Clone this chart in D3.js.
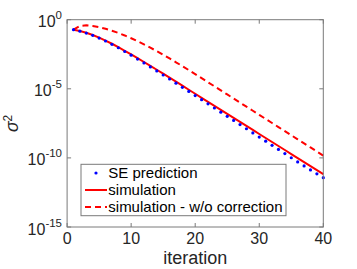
<!DOCTYPE html>
<html><head><meta charset="utf-8">
<script src="https://cdn.jsdelivr.net/npm/d3@7"></script>
<style>
html,body{margin:0;padding:0;background:#fff;}
svg{display:block;font-family:"Liberation Sans",Arial,Helvetica,sans-serif;}
</style></head>
<body>
<script>
// iterations 1..40
const iterations = d3.range(1, 41);
// log10(sigma^2) values
const seLog10 = [-0.72,-0.83,-0.97,-1.13,-1.33,-1.54,-1.78,-2.03,-2.30,-2.57,
  -2.85,-3.13,-3.42,-3.71,-4.00,-4.29,-4.59,-4.89,-5.19,-5.49,
  -5.79,-6.09,-6.39,-6.69,-6.99,-7.29,-7.59,-7.89,-8.19,-8.49,
  -8.79,-9.09,-9.39,-9.69,-9.99,-10.29,-10.58,-10.87,-11.15,-11.43];
const simLog10 = [-0.72,-0.82,-0.95,-1.11,-1.30,-1.51,-1.74,-1.99,-2.25,-2.515,
  -2.785,-3.06,-3.34,-3.623,-3.909,-4.197,-4.487,-4.777,-5.07,-5.36,
  -5.65,-5.94,-6.23,-6.52,-6.81,-7.10,-7.39,-7.68,-7.97,-8.27,
  -8.56,-8.85,-9.14,-9.43,-9.72,-10.01,-10.30,-10.59,-10.88,-11.18];
const noCorrLog10 = [-0.72,-0.45,-0.40,-0.45,-0.54,-0.66,-0.80,-0.96,-1.14,-1.34,
  -1.555,-1.785,-2.025,-2.275,-2.535,-2.805,-3.08,-3.36,-3.645,-3.935,
  -4.23,-4.525,-4.82,-5.115,-5.41,-5.705,-6.0,-6.295,-6.59,-6.885,
  -7.18,-7.475,-7.77,-8.065,-8.36,-8.655,-8.95,-9.245,-9.54,-9.835];
const xTicks = [0, 10, 20, 30, 40];
const yTickExps = [0, -5, -10, -15];
const legendLabels = ["SE prediction", "simulation", "simulation - w/o correction"];

const W = 357, H = 269;
const L = 67.1, R = 323.3, T = 19.7, B = 227;
const axisColor = "#262626";

const svg = d3.select("body").append("svg").attr("width", W).attr("height", H);
const x = d3.scaleLinear().domain([0, 40]).range([L, R]);
const y = d3.scaleLog().domain([1e-15, 1]).range([B, T]);

const toPts = arr => iterations.map((it, i) => ({x: it, v: Math.pow(10, arr[i])}));
const se = toPts(seLog10), sim = toPts(simLog10), nc = toPts(noCorrLog10);

const line = d3.line().x(d => x(d.x)).y(d => y(d.v));

const g = svg.append("g");
g.append("rect").attr("x", L).attr("y", T).attr("width", R - L).attr("height", B - T).attr("fill", "#fff");

// data
g.append("path").datum(nc).attr("d", line).attr("fill", "none")
  .attr("stroke", "#ff0000").attr("stroke-width", 2).attr("stroke-dasharray", "6,4");
g.append("path").datum(sim).attr("d", line).attr("fill", "none")
  .attr("stroke", "#ff0000").attr("stroke-width", 2);
g.selectAll("circle.se").data(se).enter().append("circle")
  .attr("cx", d => x(d.x)).attr("cy", d => y(d.v)).attr("r", 1.6).attr("fill", "#0000ff");

// axes box
const ax = svg.append("g").attr("stroke", "#7a7a7a").attr("stroke-width", 1).attr("fill", "none");
ax.append("rect").attr("x", L).attr("y", T).attr("width", R - L).attr("height", B - T);
const tl = 4;
xTicks.forEach(t => {
  ax.append("line").attr("x1", x(t)).attr("x2", x(t)).attr("y1", B).attr("y2", B - tl);
  ax.append("line").attr("x1", x(t)).attr("x2", x(t)).attr("y1", T).attr("y2", T + tl);
});
yTickExps.forEach(e => {
  const yy = y(Math.pow(10, e));
  ax.append("line").attr("x1", L).attr("x2", L + tl).attr("y1", yy).attr("y2", yy);
  ax.append("line").attr("x1", R).attr("x2", R - tl).attr("y1", yy).attr("y2", yy);
});

// x tick labels
svg.selectAll("text.xt").data(xTicks).enter().append("text")
  .attr("x", d => x(d)).attr("y", 244).attr("text-anchor", "middle")
  .attr("font-size", 16).attr("fill", axisColor).text(d => d);

// y tick labels with superscripts
yTickExps.forEach(e => {
  const yy = y(Math.pow(10, e));
  const t = svg.append("text").attr("x", 62).attr("y", yy + 7.5).attr("text-anchor", "end")
    .attr("font-size", 16).attr("fill", axisColor);
  t.append("tspan").text("10");
  t.append("tspan").attr("font-size", 11.5).attr("dy", -8).text(String(e));
});

// axis labels
svg.append("text").attr("x", (L + R) / 2).attr("y", 264).attr("text-anchor", "middle")
  .attr("font-size", 18).attr("fill", axisColor).text("iteration");
const yl = svg.append("text").attr("transform", "translate(17.5," + ((T + B) / 2) + ") rotate(-90)")
  .attr("text-anchor", "middle").attr("font-size", 17.6).attr("fill", axisColor);
yl.append("tspan").attr("font-style", "italic").text("σ");
yl.append("tspan").attr("font-size", 12).attr("dy", -6).text("2");

// legend
const lg = svg.append("g");
lg.append("rect").attr("x", 81).attr("y", 164.3).attr("width", 205).attr("height", 51.4)
  .attr("fill", "#fff").attr("stroke", "#7a7a7a").attr("stroke-width", 1);
const rows = [173, 190, 207];
lg.append("circle").attr("cx", 96).attr("cy", rows[0]).attr("r", 1.6).attr("fill", "#0000ff");
lg.append("line").attr("x1", 85).attr("x2", 107).attr("y1", rows[1]).attr("y2", rows[1])
  .attr("stroke", "#ff0000").attr("stroke-width", 2);
lg.append("line").attr("x1", 85).attr("x2", 107).attr("y1", rows[2]).attr("y2", rows[2])
  .attr("stroke", "#ff0000").attr("stroke-width", 2).attr("stroke-dasharray", "6,4");
legendLabels.forEach((s, i) => {
  lg.append("text").attr("x", 108.3).attr("y", rows[i] + 5).attr("font-size", 15)
    .attr("fill", "#000").text(s);
});
</script>
</body></html>
